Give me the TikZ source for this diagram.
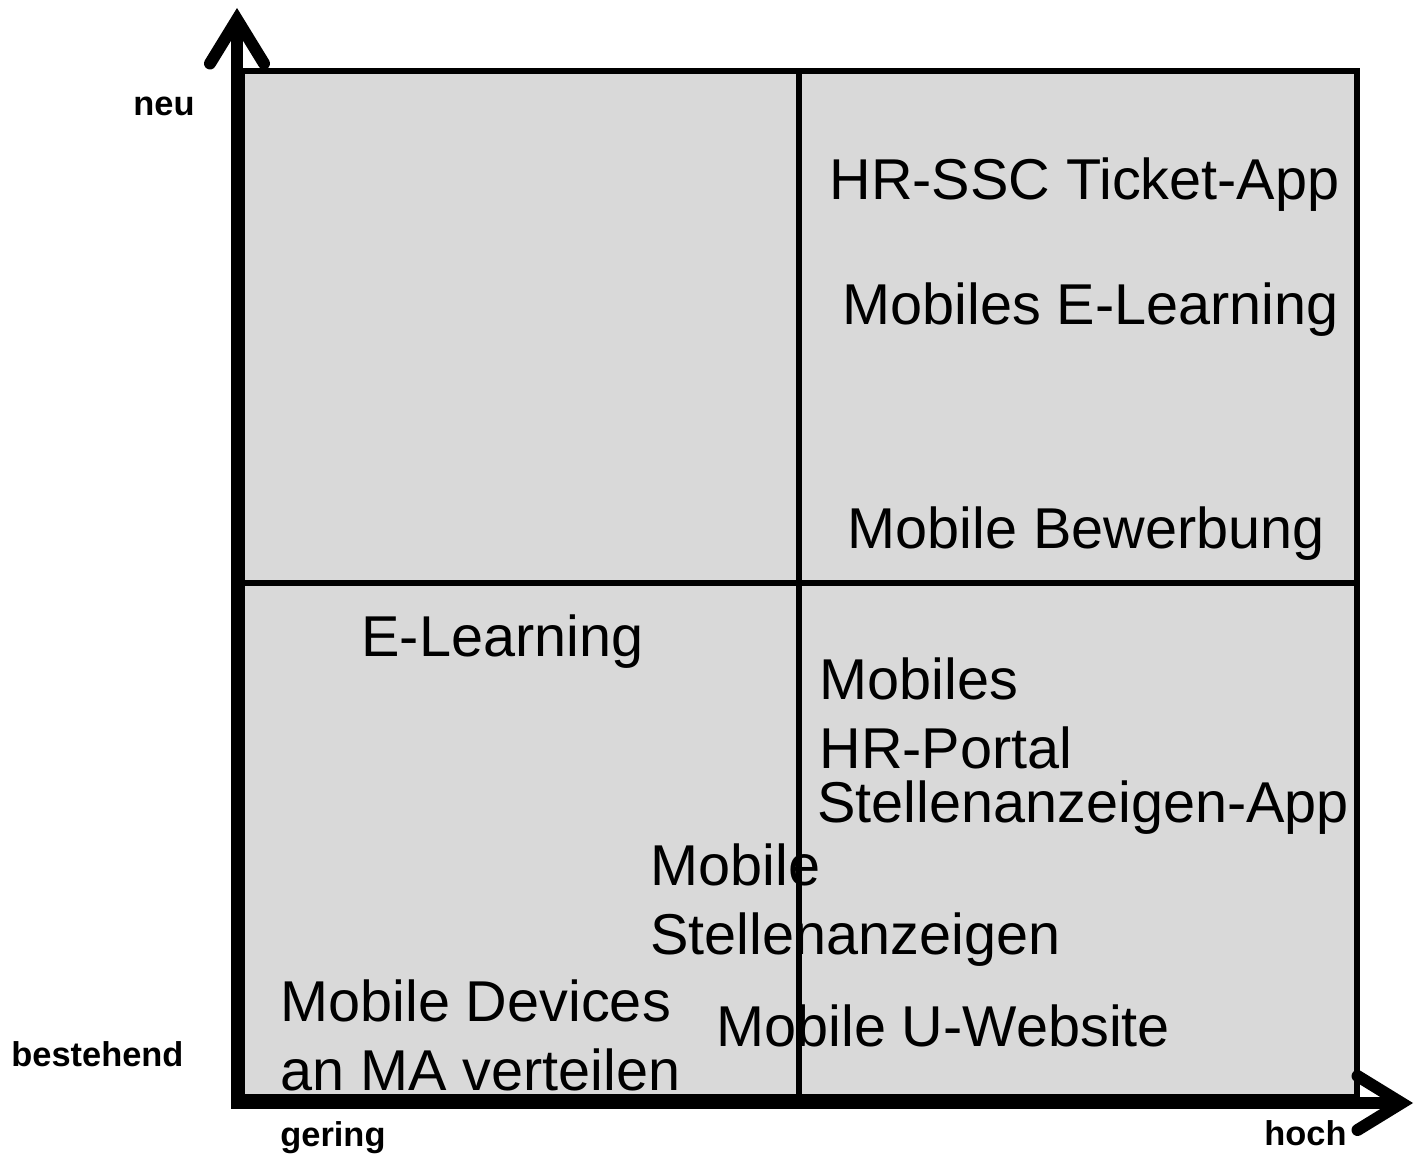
\documentclass[tikz,border=0pt]{standalone}
\usepackage{fontspec}
\setmainfont{Liberation Sans}
\usetikzlibrary{arrows.meta,positioning}

\tikzset{
  axis/.style={line width=6pt, line cap=rect,
    -{Straight Barb[length=22pt, width=27pt, line width=6pt, line cap=round]}},
  grid/.style={line width=2.6pt},
  entry/.style={anchor=base west, inner sep=0pt, font=\fontsize{28.8}{34.5}\selectfont, align=left},
  label/.style={anchor=base west, inner sep=0pt, font=\fontsize{17.2}{20}\selectfont\bfseries}
}

\begin{document}
\begin{tikzpicture}[x=0.5pt,y=-0.5pt]
  \useasboundingbox (0,0) rectangle (1417,1160);

  % matrix
  \coordinate (tl) at (242,71);
  \coordinate (br) at (1357,1097);
  \coordinate (mid) at (799,583);
  \fill[black!15] (tl) rectangle (br);
  \draw[grid] (tl) rectangle (br);
  \draw[grid] (mid |- tl) -- (mid |- br);
  \draw[grid] (mid -| tl) -- (mid -| br);

  % axes
  \coordinate (o) at (237,1103);
  \coordinate (ytip) at (237,8);
  \coordinate (xtip) at (1413,1103);
  \draw[axis] (o) -- (ytip);
  \draw[axis] (o) -- (xtip);

  % axis labels
  \node[label] (neu) at (133,116) {neu};
  \node[label] (bestehend) at (11,1066) {bestehend};
  \node[label] (gering) at (280,1146) {gering};
  \node[label] (hoch) at (1264,1145) {hoch};

  % entries (base = last line)
  \node[entry] (ticket) at (829,200) {HR-SSC Ticket-App};
  \node[entry] (mobel) at (842,325) {Mobiles E-Learning};
  \node[entry] (bewerb) at (847,548) {Mobile Bewerbung};
  \node[entry] (elearn) at (361,656) {E-Learning};
  \node[entry] (portal) at (819,768) {Mobiles\\HR-Portal};
  \node[entry] (stapp) at (817,822) {Stellenanzeigen-App};
  \node[entry] (stanz) at (650,954) {Mobile\\Stellenanzeigen};
  \node[entry] (devices) at (280,1090) {Mobile Devices\\an MA verteilen};
  \node[entry] (website) at (716,1046) {Mobile U-Website};
\end{tikzpicture}
\end{document}
